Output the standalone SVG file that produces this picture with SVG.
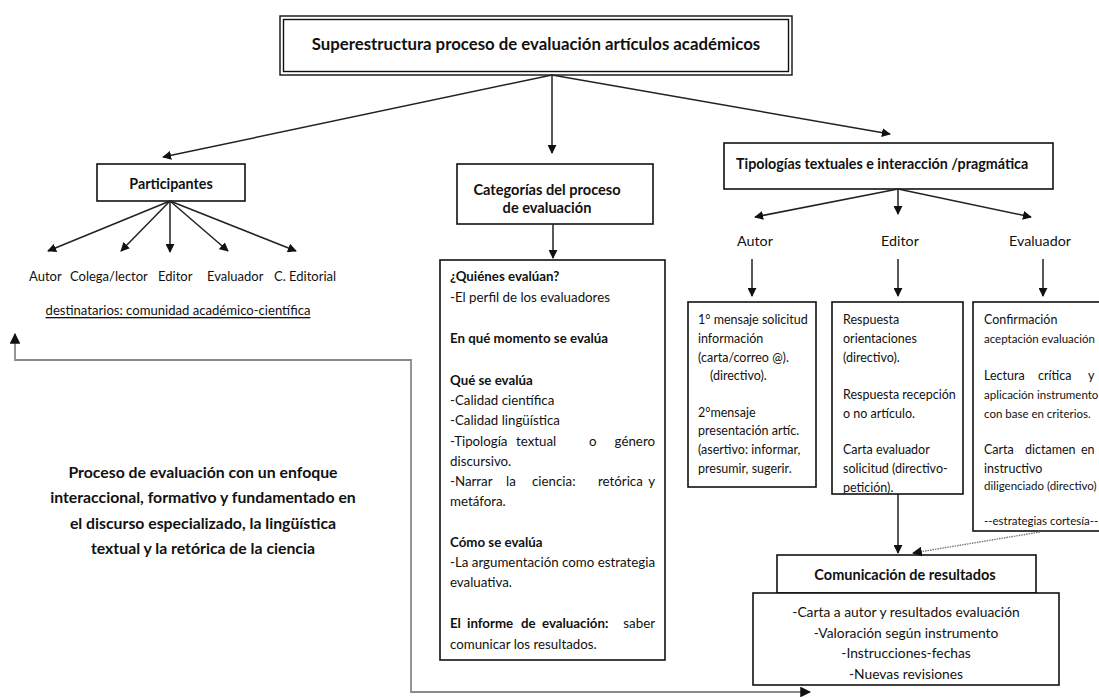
<svg xmlns="http://www.w3.org/2000/svg" width="1099" height="698" viewBox="0 0 1099 698">
<style>
text{font-family:Lato,"Liberation Sans",sans-serif;fill:#111;dominant-baseline:central}
.b{font-weight:bold}
.t{font-size:12.5px}
.s{font-size:11.5px}
.k{font-size:13.3px}
.p{font-size:13px}
.box{fill:#fff;stroke:#111;stroke-width:1.6}
.c{fill:none;stroke:#222;stroke-width:1.5}
.g{fill:none;stroke:#8a8a8a;stroke-width:1.8}
.mid{text-anchor:middle}
.end{text-anchor:end}
</style>
<defs>
<marker id="ah" viewBox="0 0 10 10" refX="9" refY="5" markerWidth="6" markerHeight="6" orient="auto" markerUnits="strokeWidth">
<path d="M0,0 L10,5 L0,10 z" fill="#111"/>
</marker>
<marker id="ahr" viewBox="0 0 10 10" refX="9" refY="5" markerWidth="6" markerHeight="6" orient="auto-start-reverse" markerUnits="strokeWidth">
<path d="M0,0 L10,5 L0,10 z" fill="#111"/>
</marker>
<marker id="ahs" viewBox="0 0 10 10" refX="9" refY="5" markerWidth="7" markerHeight="7" orient="auto" markerUnits="strokeWidth">
<path d="M0,0 L10,5 L0,10 z" fill="#111"/>
</marker>
</defs>
<rect width="1099" height="698" fill="#fff"/>

<g id="title">
<rect x="280" y="16" width="512" height="59" fill="#fff" stroke="#111" stroke-width="1.4"/>
<rect x="283.5" y="19.5" width="505" height="52" fill="none" stroke="#111" stroke-width="1.4"/>
<text x="536" y="43" class="b mid" font-size="16.8">Superestructura proceso de evaluación artículos académicos</text>
</g>

<g id="participantes">
<rect class="box" x="97" y="164" width="148" height="37"/>
<text x="171" y="183" class="b mid" font-size="14.3">Participantes</text>
</g>
<g id="participantes-lista">
<text class="p" x="29" y="276">Autor</text>
<text class="p" x="70" y="276">Colega/lector</text>
<text class="p" x="158" y="276">Editor</text>
<text class="p" x="207" y="276">Evaluador</text>
<text class="p" x="274" y="276">C. Editorial</text>
<text x="178" y="310" class="mid" font-size="13.1" text-decoration="underline">destinatarios: comunidad académico-científica</text>
</g>

<g id="enfoque">
<text x="203" y="471" class="b mid" font-size="15.8">Proceso de evaluación con un enfoque</text>
<text x="203" y="496" class="b mid" font-size="15.8">interaccional, formativo y fundamentado en</text>
<text x="203" y="522" class="b mid" font-size="15.8">el discurso especializado, la lingüística</text>
<text x="203" y="547" class="b mid" font-size="15.8">textual y la retórica de la ciencia</text>
</g>

<g id="categorias">
<rect class="box" x="457" y="164" width="196" height="60"/>
<text x="547" y="189" class="b mid" font-size="14.6">Categorías del proceso</text>
<text x="547" y="207" class="b mid" font-size="14.6">de evaluación</text>
</g>

<g id="categorias-detalle">
<rect class="box" x="440" y="260" width="225" height="400"/>
<text class="k b" x="450" y="276">¿Quiénes evalúan?</text>
<text class="k" x="450" y="297">-El perfil de los evaluadores</text>
<text class="k b" x="450" y="338">En qué momento se evalúa</text>
<text class="k b" x="450" y="380">Qué se evalúa</text>
<text class="k" x="450" y="400">-Calidad científica</text>
<text class="k" x="450" y="420">-Calidad lingüística</text>
<text class="k" y="441"><tspan x="450">-Tipología</tspan><tspan x="516">textual</tspan><tspan x="589">o</tspan><tspan x="655" class="end">género</tspan></text>
<text class="k" x="450" y="461">discursivo.</text>
<text class="k" y="481"><tspan x="450">-Narrar</tspan><tspan x="506">la</tspan><tspan x="532">ciencia:</tspan><tspan x="598">retórica</tspan><tspan x="655" class="end">y</tspan></text>
<text class="k" x="450" y="501">metáfora.</text>
<text class="k b" x="450" y="542">Cómo se evalúa</text>
<text class="k" x="450" y="562" textLength="205" lengthAdjust="spacingAndGlyphs">-La argumentación como estrategia</text>
<text class="k" x="450" y="582">evaluativa.</text>
<text class="k" y="623"><tspan x="450" class="b">El</tspan><tspan x="467" class="b">informe</tspan><tspan x="521" class="b">de</tspan><tspan x="542" class="b">evaluación:</tspan><tspan x="655" class="end">saber</tspan></text>
<text class="k" x="450" y="644">comunicar los resultados.</text>
</g>

<g id="tipologias">
<rect class="box" x="724" y="143" width="329" height="46"/>
<text x="736" y="163" class="b" font-size="14.3">Tipologías textuales e interacción /pragmática</text>
</g>
<g id="roles">
<text x="755" y="240" class="mid" font-size="14.3">Autor</text>
<text x="900" y="240" class="mid" font-size="14.3">Editor</text>
<text x="1040" y="240" class="mid" font-size="14.3">Evaluador</text>
</g>

<g id="autor">
<rect class="box" x="688" y="302" width="128" height="185"/>
<text class="t" x="698" y="319">1° mensaje solicitud</text>
<text class="t" x="698" y="338">información</text>
<text class="t" x="698" y="357">(carta/correo  @).</text>
<text class="t" x="710" y="375">(directivo).</text>
<text class="t" x="698" y="412">2°mensaje</text>
<text class="t" x="698" y="430">presentación artíc.</text>
<text class="t" x="698" y="449">(asertivo: informar,</text>
<text class="t" x="698" y="468">presumir, sugerir.</text>
</g>

<g id="editor">
<rect class="box" x="832" y="302" width="131" height="192"/>
<text class="t" x="843" y="319">Respuesta</text>
<text class="t" x="843" y="338">orientaciones</text>
<text class="t" x="843" y="357">(directivo).</text>
<text class="t" x="843" y="394">Respuesta recepción</text>
<text class="t" x="843" y="413">o no artículo.</text>
<text class="t" x="843" y="449">Carta evaluador</text>
<text class="t" x="843" y="468">solicitud (directivo-</text>
<text class="t" x="843" y="487">petición).</text>
</g>

<g id="evaluador">
<rect class="box" x="973" y="302" width="140" height="229"/>
<text class="t" x="984" y="319">Confirmación</text>
<text class="s" x="984" y="338">aceptación evaluación</text>
<text class="t" y="375"><tspan x="984">Lectura</tspan><tspan x="1038">crítica</tspan><tspan x="1088">y</tspan></text>
<text class="s" x="984" y="394">aplicación instrumento</text>
<text class="s" x="984" y="413">con base en criterios.</text>
<text class="t" y="449"><tspan x="984">Carta</tspan><tspan x="1025">dictamen</tspan><tspan x="1081">en</tspan></text>
<text class="t" x="984" y="468">instructivo</text>
<text class="s" x="984" y="485">diligenciado (directivo)</text>
<text class="s" x="984" y="520">--estrategias cortesía--</text>
</g>

<g id="comunicacion">
<rect class="box" x="777" y="555" width="259" height="38"/>
<text x="905" y="574" class="b mid" font-size="14.5">Comunicación de resultados</text>
</g>
<g id="comunicacion-detalle">
<rect class="box" x="753" y="593" width="306" height="92"/>
<text class="mid" x="906" y="611" font-size="13.8">-Carta a autor y resultados evaluación</text>
<text class="mid" x="906" y="632" font-size="13.8">-Valoración según instrumento</text>
<text class="mid" x="906" y="652" font-size="13.8">-Instrucciones-fechas</text>
<text class="mid" x="906" y="673" font-size="13.8">-Nuevas revisiones</text>
</g>

<g id="connectors">
<line class="c" x1="552" y1="75" x2="163" y2="157" marker-end="url(#ah)"/>
<line class="c" x1="552" y1="75" x2="552" y2="153" marker-end="url(#ah)"/>
<line class="c" x1="552" y1="75" x2="890" y2="134" marker-end="url(#ah)"/>
<line class="c" x1="170" y1="201" x2="48" y2="251" marker-end="url(#ah)"/>
<line class="c" x1="170" y1="201" x2="121" y2="251" marker-end="url(#ah)"/>
<line class="c" x1="170" y1="201" x2="170" y2="252" marker-end="url(#ah)"/>
<line class="c" x1="170" y1="201" x2="228" y2="251" marker-end="url(#ah)"/>
<line class="c" x1="170" y1="201" x2="296" y2="251" marker-end="url(#ah)"/>
<line class="c" x1="553" y1="224" x2="553" y2="258" marker-end="url(#ah)"/>
<line class="c" x1="898" y1="189" x2="755" y2="217" marker-end="url(#ah)"/>
<line class="c" x1="898" y1="189" x2="898" y2="214" marker-end="url(#ah)"/>
<line class="c" x1="898" y1="189" x2="1031" y2="217" marker-end="url(#ah)"/>
<line class="c" x1="752" y1="259" x2="752" y2="296" marker-end="url(#ah)"/>
<line class="c" x1="898" y1="259" x2="898" y2="296" marker-end="url(#ah)"/>
<line class="c" x1="1043" y1="259" x2="1043" y2="296" marker-end="url(#ah)"/>
<line class="c" x1="898" y1="494" x2="898" y2="553" marker-end="url(#ah)"/>
<line x1="1040" y1="532" x2="913" y2="553" stroke="#777" stroke-width="1.4" stroke-dasharray="1.5 1" marker-end="url(#ahs)"/>
<polyline class="g" points="810,692 411,692 411,360 15,360 15,334" marker-start="url(#ahr)" marker-end="url(#ah)"/>
</g>
</svg>
